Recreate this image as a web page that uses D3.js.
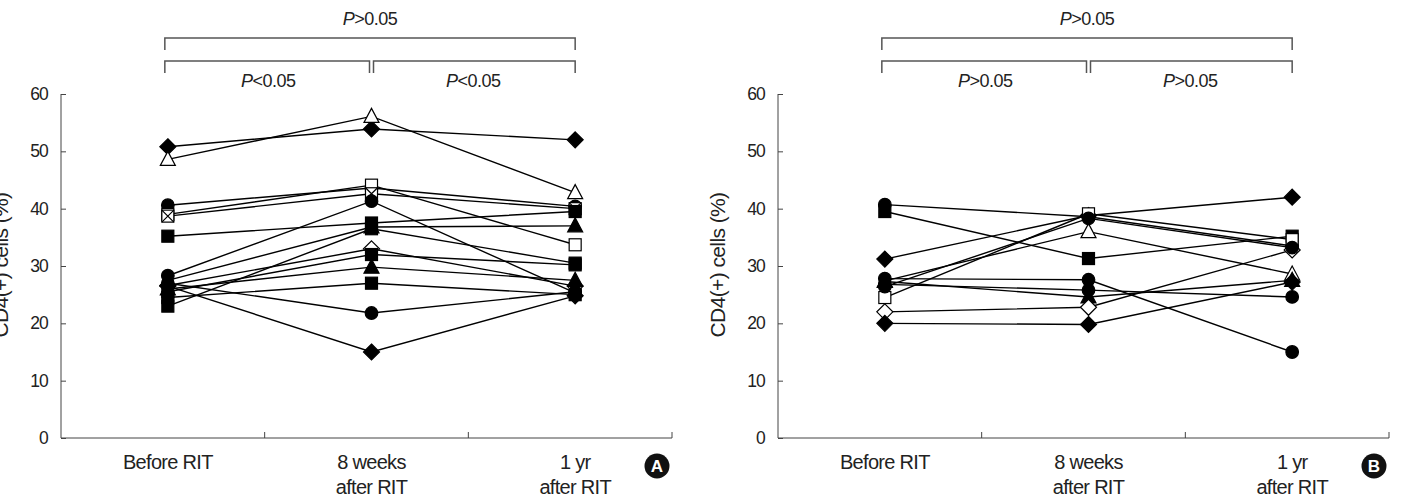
<!DOCTYPE html>
<html>
<head>
<meta charset="utf-8">
<script src="https://cdn.jsdelivr.net/npm/d3@7"></script>
<style>
  body { margin: 0; background: #fff; }
  text { font-family: "Liberation Sans", Arial, sans-serif; fill: #222; }
</style>
</head>
<body>
<div id="chart"></div>
<script>
// categories and ticks
const categories = ["Before RIT", "8 weeks|after RIT", "1 yr|after RIT"];
const yTicks = [0, 10, 20, 30, 40, 50, 60];

// panel A: marker shape per patient and values (before, 8 weeks, 1 yr)
const shapesA = ["diamond", "triangleOpen", "circle", "squareOpen", "squareX", "square", "circle",
    "triangle", "diamondOpen", "square", "triangle", "square", "circle", "diamond", "square"];
const valuesA = [
    [50.8, 53.9, 52.0],
    [48.6, 56.1, 42.8],
    [40.6, 43.6, 40.4],
    [39.0, 44.1, 33.7],
    [38.7, 42.6, 40.0],
    [35.2, 37.5, 39.5],
    [28.3, 41.3, 25.3],
    [27.5, 36.8, 37.0],
    [26.6, 33.0, 26.5],
    [25.5, 32.0, 30.2],
    [26.0, 29.8, 27.5],
    [24.5, 27.0, 25.0],
    [27.0, 21.8, 25.5],
    [26.5, 15.0, 24.8],
    [23.0, 36.5, 30.5]
];

// panel B
const shapesB = ["circle", "square", "diamond", "triangleOpen", "circle", "circle", "triangle",
    "squareOpen", "diamondOpen", "diamond", "circle"];
const valuesB = [
    [40.7, 38.6, 33.5],
    [39.5, 31.3, 35.2],
    [31.2, 38.8, 42.0],
    [27.4, 36.0, 28.6],
    [27.8, 27.6, 15.0],
    [26.8, 25.8, 24.6],
    [27.3, 24.6, 27.5],
    [24.5, 39.1, 34.6],
    [22.0, 22.8, 32.8],
    [20.0, 19.8, 27.2],
    [26.4, 38.3, 33.2]
];

const pTopA = [">0.05"], pPairA = ["<0.05", "<0.05"];
const pTopB = [">0.05"], pPairB = [">0.05", ">0.05"];

const width = 1403, height = 497;
const svg = d3.select("#chart").append("svg")
    .attr("width", width).attr("height", height);

const y = d3.scaleLinear().domain([0, 60]).range([438, 94]);

function drawMarker(g, shape, cx, cy) {
    const open = shape.endsWith("Open") || shape == "squareX";
    const fill = open ? "#fff" : "#000";
    const base = shape.replace("Open", "");
    if (base == "circle") {
        g.append("circle").attr("cx", cx).attr("cy", cy).attr("r", 6.3)
            .attr("fill", fill).attr("stroke", "#000").attr("stroke-width", 1.2);
    } else if (base == "square" || base == "squareX") {
        g.append("rect").attr("x", cx - 6).attr("y", cy - 6).attr("width", 12).attr("height", 12)
            .attr("fill", fill).attr("stroke", "#000").attr("stroke-width", 1.2);
        if (base == "squareX") {
            g.append("path").attr("d", `M${cx-6},${cy-6}L${cx+6},${cy+6}M${cx+6},${cy-6}L${cx-6},${cy+6}`)
                .attr("stroke", "#000").attr("stroke-width", 1.2);
        }
    } else if (base == "diamond") {
        g.append("path").attr("d", `M${cx},${cy-8}L${cx+8},${cy}L${cx},${cy+8}L${cx-8},${cy}Z`)
            .attr("fill", fill).attr("stroke", "#000").attr("stroke-width", 1.2);
    } else if (base == "triangle") {
        g.append("path").attr("d", `M${cx},${cy-8}L${cx+7.5},${cy+6}L${cx-7.5},${cy+6}Z`)
            .attr("fill", fill).attr("stroke", "#000").attr("stroke-width", 1.2);
    }
}

function bracket(g, x1, x2, yTop, drop) {
    g.append("path")
        .attr("d", `M${x1},${yTop + drop}V${yTop}H${x2}V${yTop + drop}`)
        .attr("fill", "none").attr("stroke", "#555").attr("stroke-width", 1.5);
}

function pText(g, x, yy, rest) {
    const t = g.append("text").attr("x", x).attr("y", yy)
        .attr("text-anchor", "middle").style("font-size", "18px").style("letter-spacing", "-0.5px");
    t.append("tspan").style("font-style", "italic").text("P");
    t.append("tspan").text(rest);
}

function drawPanel(axisX, shapes, values, pTop, pPair, letter) {
    const g = svg.append("g");
    const x = d3.scaleBand().domain(categories).range([axisX, axisX + 611]);
    const xp = c => x(c) + x.bandwidth() / 2 + 5;

    // y axis, ticks pointing inward
    const yAxis = d3.axisLeft(y).tickValues(yTicks).tickSize(-5).tickPadding(13);
    const ya = g.append("g").attr("transform", `translate(${axisX},0)`).call(yAxis);
    ya.select(".domain").attr("d", `M0,${y(60)}V${y(0)}`).attr("stroke", "#444");
    ya.selectAll(".tick line").attr("stroke", "#444");
    ya.selectAll(".tick text").style("font-size", "17.5px").style("letter-spacing", "-0.8px")
        .style("font-family", "Liberation Sans, Arial").attr("fill", "#222");

    // x axis
    g.append("line").attr("x1", axisX).attr("x2", axisX + 611)
        .attr("y1", y(0)).attr("y2", y(0)).attr("stroke", "#444");
    g.selectAll(".xt").data(categories).enter().append("line")
        .attr("x1", c => x(c) + x.bandwidth()).attr("x2", c => x(c) + x.bandwidth())
        .attr("y1", y(0)).attr("y2", y(0) - 6).attr("stroke", "#444");
    categories.forEach(c => {
        const lines = c.split("|");
        const t = g.append("text").attr("x", xp(c)).attr("y", 469)
            .attr("text-anchor", "middle").style("font-size", "20px").style("letter-spacing", "-0.7px");
        lines.forEach((s, i) => t.append("tspan").attr("x", xp(c)).attr("dy", i ? 25 : 0).text(s));
    });

    // y label (cut at the left page edge in panel A, as in the source figure)
    g.append("text")
        .attr("transform", `translate(${axisX - 53},${y(30) - 1}) rotate(-90)`)
        .attr("text-anchor", "middle").style("font-size", "21px").style("letter-spacing", "-0.6px")
        .text("CD4(+) cells (%)");

    // lines
    const line = d3.line().x((d, i) => xp(categories[i])).y(d => y(d));
    g.selectAll(".ser").data(values).enter().append("path")
        .attr("d", line).attr("fill", "none").attr("stroke", "#000").attr("stroke-width", 1.4);

    // markers
    values.forEach((vals, k) => {
        vals.forEach((v, i) => drawMarker(g, shapes[k], xp(categories[i]), y(v)));
    });

    // brackets
    const c0 = xp(categories[0]) - 3, c1 = xp(categories[1]), c2 = xp(categories[2]);
    bracket(g, c0, c2, 38, 12);
    bracket(g, c0, c1 - 2, 61, 12);
    bracket(g, c1 + 2, c2, 61, 12);
    pText(g, (c0 + c2) / 2, 25, pTop[0]);
    pText(g, (c0 + c1) / 2, 87, pPair[0]);
    pText(g, (c1 + c2) / 2, 87, pPair[1]);

    // panel letter badge
    g.append("circle").attr("cx", axisX + 596).attr("cy", 466).attr("r", 12.5).attr("fill", "#111");
    g.append("text").attr("x", axisX + 596).attr("y", 472).attr("text-anchor", "middle")
        .style("font-size", "17px").style("font-weight", "bold").style("fill", "#fff").text(letter);
}

drawPanel(61, shapesA, valuesA, pTopA, pPairA, "A");
drawPanel(778, shapesB, valuesB, pTopB, pPairB, "B");
</script>
</body>
</html>
